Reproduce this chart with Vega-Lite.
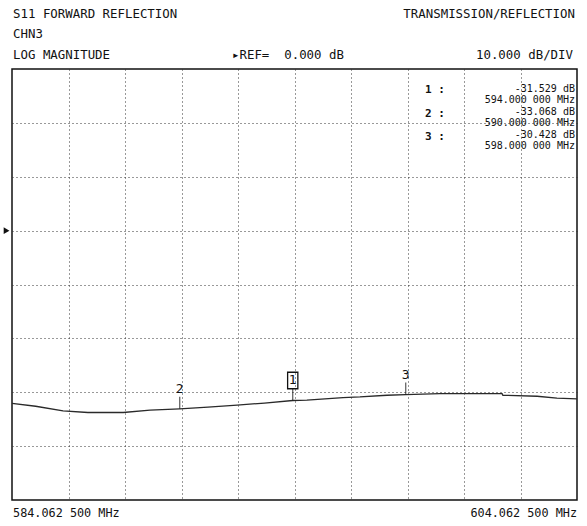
{
  "$schema": "https://vega.github.io/schema/vega-lite/v6.json",
  "width": 565,
  "height": 431,
  "autosize": {"type": "none"},
  "padding": {"left": 12, "top": 69, "right": 10, "bottom": 26},
  "background": "white",
  "config": {
    "view": {"stroke": "#111", "strokeWidth": 1.5},
    "font": "DejaVu Sans Mono",
    "text": {"font": "DejaVu Sans Mono", "color": "#111"}
  },
  "datasets": {
    "trace": [
      {"f": 584.0625, "db": -32.05},
      {"f": 584.9, "db": -32.6},
      {"f": 585.87, "db": -33.46},
      {"f": 586.75, "db": -33.76},
      {"f": 588.0, "db": -33.76},
      {"f": 588.95, "db": -33.33},
      {"f": 590.0, "db": -33.068},
      {"f": 591.0, "db": -32.75},
      {"f": 592.03, "db": -32.4},
      {"f": 593.0, "db": -32.0},
      {"f": 594.0, "db": -31.529},
      {"f": 594.5, "db": -31.48},
      {"f": 595.78, "db": -30.98},
      {"f": 596.38, "db": -30.87},
      {"f": 597.34, "db": -30.56},
      {"f": 598.0, "db": -30.428},
      {"f": 599.21, "db": -30.25},
      {"f": 601.41, "db": -30.25},
      {"f": 601.44, "db": -30.56},
      {"f": 602.65, "db": -30.74},
      {"f": 603.35, "db": -31.1},
      {"f": 604.0625, "db": -31.24}
    ],
    "markers": [
      {"num": "1", "f": 594.0, "db": -31.529, "tag": "1 :", "value": "-31.529 dB", "freq": "594.000 000 MHz"},
      {"num": "2", "f": 590.0, "db": -33.068, "tag": "2 :", "value": "-33.068 dB", "freq": "590.000 000 MHz"},
      {"num": "3", "f": 598.0, "db": -30.428, "tag": "3 :", "value": "-30.428 dB", "freq": "598.000 000 MHz"}
    ]
  },
  "layer": [
    {
      "data": {"name": "trace"},
      "mark": {"type": "line", "color": "#2a2a2a", "strokeWidth": 1.3, "clip": true},
      "encoding": {
        "x": {
          "field": "f", "type": "quantitative",
          "scale": {"domain": [584.0625, 604.0625], "nice": false, "zero": false},
          "axis": {
            "values": [586.0625, 588.0625, 590.0625, 592.0625, 594.0625, 596.0625, 598.0625, 600.0625, 602.0625],
            "grid": true, "gridDash": [1, 3], "gridColor": "#333", "gridOpacity": 1, "gridWidth": 1,
            "labels": false, "ticks": false, "domain": false, "title": null
          }
        },
        "y": {
          "field": "db", "type": "quantitative",
          "scale": {"domain": [-50, 30], "nice": false, "zero": false},
          "axis": {
            "values": [-40, -30, -20, -10, 0, 10, 20],
            "grid": true, "gridDash": [1, 3], "gridColor": "#333", "gridOpacity": 1, "gridWidth": 1,
            "labels": false, "ticks": false, "domain": false, "title": null
          }
        }
      }
    },
    {
      "data": {"name": "markers"},
      "mark": {"type": "tick", "orient": "vertical", "size": 12, "thickness": 1.2, "yOffset": -6, "color": "#111"},
      "encoding": {
        "x": {"field": "f", "type": "quantitative"},
        "y": {"field": "db", "type": "quantitative"}
      }
    },
    {
      "data": {"name": "markers"},
      "mark": {"type": "text", "fontSize": 13, "yOffset": -20, "baseline": "middle", "align": "center"},
      "encoding": {
        "x": {"field": "f", "type": "quantitative"},
        "y": {"field": "db", "type": "quantitative"},
        "text": {"field": "num"}
      }
    },
    {
      "data": {"name": "markers"},
      "transform": [{"filter": "datum.num == '1'"}],
      "mark": {"type": "point", "shape": "M-0.62,-1L0.62,-1L0.62,1L-0.62,1Z", "size": 272, "filled": false, "stroke": "#111", "strokeWidth": 1.3, "opacity": 1, "yOffset": -20},
      "encoding": {
        "x": {"field": "f", "type": "quantitative"},
        "y": {"field": "db", "type": "quantitative"}
      }
    },
    {
      "data": {"name": "markers"},
      "transform": [{"filter": "datum.num == '1'"}],
      "layer": [
        {"mark": {"type": "text", "fontSize": 11, "fontWeight": "bold", "align": "left", "baseline": "middle"}, "encoding": {"x": {"datum": 598.68}, "y": {"datum": 26.1}, "text": {"field": "tag"}}},
        {"mark": {"type": "text", "fontSize": 10, "align": "right", "baseline": "middle"}, "encoding": {"x": {"datum": 603.99}, "y": {"datum": 26.3}, "text": {"field": "value"}}},
        {"mark": {"type": "text", "fontSize": 10, "align": "right", "baseline": "middle"}, "encoding": {"x": {"datum": 603.99}, "y": {"datum": 24.26}, "text": {"field": "freq"}}}
      ]
    },
    {
      "data": {"name": "markers"},
      "transform": [{"filter": "datum.num == '2'"}],
      "layer": [
        {"mark": {"type": "text", "fontSize": 11, "fontWeight": "bold", "align": "left", "baseline": "middle"}, "encoding": {"x": {"datum": 598.68}, "y": {"datum": 21.6}, "text": {"field": "tag"}}},
        {"mark": {"type": "text", "fontSize": 10, "align": "right", "baseline": "middle"}, "encoding": {"x": {"datum": 603.99}, "y": {"datum": 22.04}, "text": {"field": "value"}}},
        {"mark": {"type": "text", "fontSize": 10, "align": "right", "baseline": "middle"}, "encoding": {"x": {"datum": 603.99}, "y": {"datum": 20.0}, "text": {"field": "freq"}}}
      ]
    },
    {
      "data": {"name": "markers"},
      "transform": [{"filter": "datum.num == '3'"}],
      "layer": [
        {"mark": {"type": "text", "fontSize": 11, "fontWeight": "bold", "align": "left", "baseline": "middle"}, "encoding": {"x": {"datum": 598.68}, "y": {"datum": 17.3}, "text": {"field": "tag"}}},
        {"mark": {"type": "text", "fontSize": 10, "align": "right", "baseline": "middle"}, "encoding": {"x": {"datum": 603.99}, "y": {"datum": 17.78}, "text": {"field": "value"}}},
        {"mark": {"type": "text", "fontSize": 10, "align": "right", "baseline": "middle"}, "encoding": {"x": {"datum": 603.99}, "y": {"datum": 15.74}, "text": {"field": "freq"}}}
      ]
    },
    {
      "data": {"values": [{}]},
      "mark": {"type": "point", "shape": "triangle-right", "size": 45, "filled": true, "color": "#111", "opacity": 1},
      "encoding": {"x": {"datum": 583.87}, "y": {"datum": 0}}
    },
    {
      "data": {"values": [{"t": "S11 FORWARD REFLECTION"}]},
      "mark": {"type": "text", "fontSize": 12.4, "align": "left", "baseline": "middle"},
      "encoding": {"x": {"datum": 584.1}, "y": {"datum": 40.2}, "text": {"field": "t"}}
    },
    {
      "data": {"values": [{"t": "CHN3"}]},
      "mark": {"type": "text", "fontSize": 12.4, "align": "left", "baseline": "middle"},
      "encoding": {"x": {"datum": 584.1}, "y": {"datum": 36.5}, "text": {"field": "t"}}
    },
    {
      "data": {"values": [{"t": "LOG MAGNITUDE"}]},
      "mark": {"type": "text", "fontSize": 12.4, "align": "left", "baseline": "middle"},
      "encoding": {"x": {"datum": 584.1}, "y": {"datum": 32.6}, "text": {"field": "t"}}
    },
    {
      "data": {"values": [{"t": "TRANSMISSION/REFLECTION"}]},
      "mark": {"type": "text", "fontSize": 12.4, "align": "right", "baseline": "middle"},
      "encoding": {"x": {"datum": 603.99}, "y": {"datum": 40.2}, "text": {"field": "t"}}
    },
    {
      "data": {"values": [{"t": "▸REF=\u00a0 0.000 dB"}]},
      "mark": {"type": "text", "fontSize": 12.4, "align": "left", "baseline": "middle"},
      "encoding": {"x": {"datum": 591.85}, "y": {"datum": 32.6}, "text": {"field": "t"}}
    },
    {
      "data": {"values": [{"t": "10.000 dB/DIV"}]},
      "mark": {"type": "text", "fontSize": 12.4, "align": "right", "baseline": "middle"},
      "encoding": {"x": {"datum": 603.92}, "y": {"datum": 32.6}, "text": {"field": "t"}}
    },
    {
      "data": {"values": [{"t": "584.062 500 MHz"}]},
      "mark": {"type": "text", "fontSize": 11.8, "align": "left", "baseline": "middle"},
      "encoding": {"x": {"datum": 584.1}, "y": {"datum": -52.4}, "text": {"field": "t"}}
    },
    {
      "data": {"values": [{"t": "604.062 500 MHz"}]},
      "mark": {"type": "text", "fontSize": 11.8, "align": "right", "baseline": "middle"},
      "encoding": {"x": {"datum": 604.0625}, "y": {"datum": -52.4}, "text": {"field": "t"}}
    }
  ]
}
